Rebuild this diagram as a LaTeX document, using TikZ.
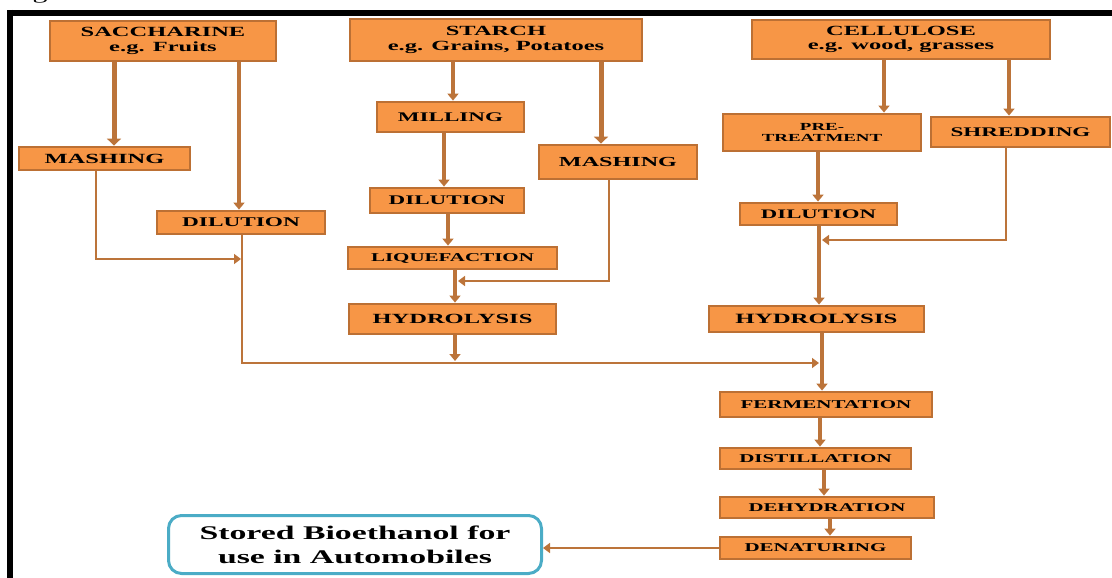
\documentclass[tikz,border=0pt]{standalone}
\usepackage{fontspec}
\setmainfont{Liberation Serif}[FakeStretch=1.75]
\usetikzlibrary{arrows.meta}
\definecolor{boxfill}{RGB}{247,150,70}
\definecolor{boxline}{RGB}{188,112,52}
\definecolor{arrc}{RGB}{188,116,58}
\definecolor{aqua}{RGB}{75,172,198}
\begin{document}
\begin{tikzpicture}[x=1pt,y=-1pt,
  box/.style={draw=boxline, fill=boxfill, line width=2.8pt, inner sep=0pt, align=center},
  arr/.style={draw=arrc, line width=3.2pt, -{Triangle[length=7pt,width=11pt]}},
  bigarr/.style={draw=arrc, line width=5pt, -{Triangle[length=7pt,width=14pt]}},
  lnarr/.style={draw=arrc, line width=2.4pt, -{Triangle[length=7pt,width=10pt]}},
  frame/.style={draw=black, line width=6pt}]
\useasboundingbox (0,0) rectangle (1112,578);
% frame
\draw[frame] (7,13) -- (1112,13);
\draw[frame] (10,10) -- (10,578);
\node[anchor=base, inner sep=0pt, font=\fontsize{17}{17}\selectfont] (cap) at (40,0) {g};
% saccharine column
\node[box, minimum width=226pt, minimum height=40pt, font=\bfseries\fontsize{14}{14.5}\selectfont] (sacch) at (163,41) {SACCHARINE\\e.g. Fruits};
\node[box, minimum width=171pt, minimum height=23pt, font=\bfseries\fontsize{14}{14}\selectfont] (mash1) at (104.5,158.5) {MASHING};
\node[box, minimum width=168pt, minimum height=23pt, font=\bfseries\fontsize{13.3}{13.3}\selectfont] (dil1) at (241,222.5) {DILUTION};
% starch column
\node[box, minimum width=292pt, minimum height=42pt, font=\bfseries\fontsize{14}{14.5}\selectfont] (starch) at (496,40) {STARCH\\e.g. Grains, Potatoes};
\node[box, minimum width=147pt, minimum height=30pt, font=\bfseries\fontsize{13.2}{13.2}\selectfont] (mill) at (450.5,117) {MILLING};
\node[box, minimum width=158pt, minimum height=34pt, font=\bfseries\fontsize{13.8}{13.8}\selectfont] (mash2) at (618,162) {MASHING};
\node[box, minimum width=154pt, minimum height=25pt, font=\bfseries\fontsize{13.2}{13.2}\selectfont] (dil2) at (447,200.5) {DILUTION};
\node[box, minimum width=209pt, minimum height=22pt, font=\bfseries\fontsize{12}{12}\selectfont] (liq) at (452.5,258) {LIQUEFACTION};
\node[box, minimum width=207pt, minimum height=30pt, font=\bfseries\fontsize{14}{14}\selectfont] (hyd1) at (452.5,319) {HYDROLYSIS};
% cellulose column
\node[box, minimum width=298pt, minimum height=39pt, font=\bfseries\fontsize{14}{14.5}\selectfont] (cell) at (901,39.5) {CELLULOSE\\e.g. wood, grasses};
\node[box, minimum width=198pt, minimum height=37pt, font=\bfseries\fontsize{10.8}{10.5}\selectfont] (pre) at (822,132.5) {PRE-\\TREATMENT};
\node[box, minimum width=179pt, minimum height=30pt, font=\bfseries\fontsize{13.2}{13.2}\selectfont] (shred) at (1020.5,132) {SHREDDING};
\node[box, minimum width=157pt, minimum height=22pt, font=\bfseries\fontsize{13}{13}\selectfont] (dil3) at (818.5,214) {DILUTION};
\node[box, minimum width=215pt, minimum height=26pt, font=\bfseries\fontsize{14.2}{14.2}\selectfont] (hyd2) at (816.5,319) {HYDROLYSIS};
% common chain
\node[box, minimum width=212pt, minimum height=25pt, font=\bfseries\fontsize{12}{12}\selectfont] (ferm) at (826,404.5) {FERMENTATION};
\node[box, minimum width=191pt, minimum height=21pt, font=\bfseries\fontsize{12}{12}\selectfont] (dist) at (815.5,458.5) {DISTILLATION};
\node[box, minimum width=214pt, minimum height=21pt, font=\bfseries\fontsize{11.9}{11.9}\selectfont] (dehyd) at (827,507.5) {DEHYDRATION};
\node[box, minimum width=191pt, minimum height=22pt, font=\bfseries\fontsize{12}{12}\selectfont] (denat) at (815.5,548) {DENATURING};
\node[draw=aqua, line width=3pt, rounded corners=13pt, fill=white, minimum width=373pt, minimum height=58pt, inner sep=0pt, align=center, font=\bfseries\fontsize{19.3}{24}\selectfont] (stored) at (355,544.5) {Stored Bioethanol for\\use in Automobiles};
% junction coordinates
\coordinate (j1) at (819,363);
\coordinate (j2) at (458,281);
\coordinate (j3) at (822,240);
\coordinate (j4) at (241,259);
% saccharine connectors
\draw[bigarr] (sacch.south -| 114,0) -- (mash1.north -| 114,0);
\draw[arr] (sacch.south -| 239,0) -- (dil1.north -| 239,0);
\draw[lnarr] (mash1.south -| 96,0) |- (j4);
\draw[lnarr] (dil1.south -| 242,0) |- (j1);
% starch connectors
\draw[arr] (starch.south -| 453,0) -- (mill.north -| 453,0);
\draw[bigarr] (starch.south -| 601,0) -- (mash2.north -| 601,0);
\draw[arr] (mill.south -| 444,0) -- (dil2.north -| 444,0);
\draw[arr] (dil2.south -| 448,0) -- (liq.north -| 448,0);
\draw[lnarr] (mash2.south -| 609,0) |- (j2);
\draw[arr] (liq.south -| 455,0) -- (hyd1.north -| 455,0);
\draw[arr] (hyd1.south -| 455,0) -- (455,361);
% cellulose connectors
\draw[arr] (cell.south -| 884,0) -- (pre.north -| 884,0);
\draw[arr] (cell.south -| 1009,0) -- (shred.north -| 1009,0);
\draw[arr] (pre.south -| 818,0) -- (dil3.north -| 818,0);
\draw[lnarr] (shred.south -| 1006,0) |- (j3);
\draw[arr] (dil3.south -| 819,0) -- (hyd2.north -| 819,0);
% common chain connectors
\draw[arr] (hyd2.south -| 822,0) -- (ferm.north -| 822,0);
\draw[arr] (ferm.south -| 820,0) -- (dist.north -| 820,0);
\draw[arr] (dist.south -| 824,0) -- (dehyd.north -| 824,0);
\draw[arr] (dehyd.south -| 830,0) -- (denat.north -| 830,0);
\draw[lnarr] (denat.west) -- (stored.east |- denat.west);
\end{tikzpicture}
\end{document}
